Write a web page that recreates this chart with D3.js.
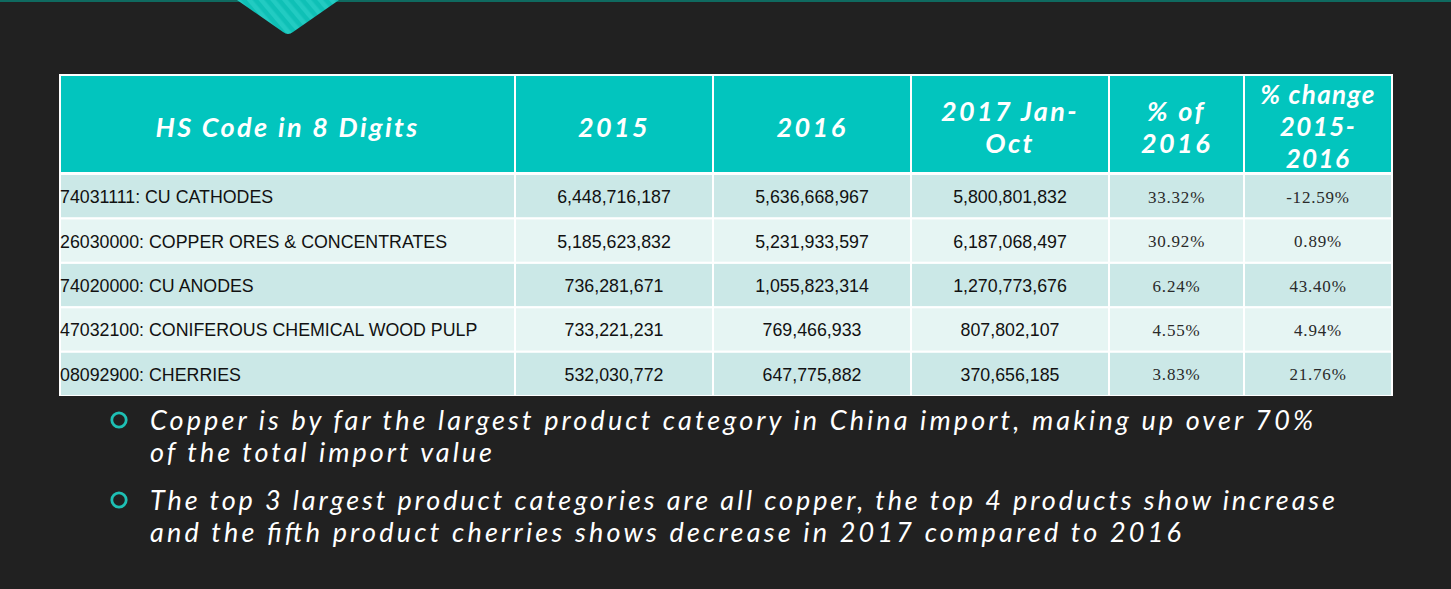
<!DOCTYPE html>
<html><head><meta charset="utf-8">
<script src="https://cdn.jsdelivr.net/npm/d3@7"></script>
<style>
html,body{margin:0;padding:0;background:#212121;}
svg{display:block;}
</style></head>
<body>
<svg id="c" width="1451" height="589"></svg>
<script>
// ---- data ----
const headers = [
  ["HS Code in 8 Digits"],
  ["2015"],
  ["2016"],
  ["2017 Jan-", "Oct"],
  ["% of", "2016"],
  ["% change", "2015-", "2016"]
];
const products = [
  "74031111: CU CATHODES",
  "26030000: COPPER ORES & CONCENTRATES",
  "74020000: CU ANODES",
  "47032100: CONIFEROUS CHEMICAL WOOD PULP",
  "08092900: CHERRIES"
];
const values2015 = [6448716187, 5185623832, 736281671, 733221231, 532030772];
const values2016 = [5636668967, 5231933597, 1055823314, 769466933, 647775882];
const values2017 = [5800801832, 6187068497, 1270773676, 807802107, 370656185];
const shareOf2016 = [33.32, 30.92, 6.24, 4.55, 3.83];
const change1516 = [-12.59, 0.89, 43.40, 4.94, 21.76];
const bullets = [
  ["Copper is by far the largest product category in China import, making up over 70%",
   "of the total import value"],
  ["The top 3 largest product categories are all copper, the top 4 products show increase",
   "and the fifth product cherries shows decrease in 2017 compared to 2016"]
];

// ---- layout ----
const svg = d3.select("#c");
const W = 1451, H = 589;
svg.append("rect").attr("width", W).attr("height", H).attr("fill", "#212121");

// top line
svg.append("rect").attr("x", 0).attr("y", 0).attr("width", W).attr("height", 2).attr("fill", "#0f6a60");

// striped chevron decoration
const defs = svg.append("defs");
const pat = defs.append("pattern").attr("id", "stripes").attr("patternUnits", "userSpaceOnUse")
  .attr("width", 9).attr("height", 9).attr("patternTransform", "rotate(-40)");
pat.append("rect").attr("width", 9).attr("height", 9).attr("fill", "#0fc0b6");
pat.append("rect").attr("width", 4.5).attr("height", 9).attr("fill", "#22cbc2");
svg.append("path")
  .attr("d", "M237,0 L339,0 L293,32 Q288,36 283,32 Z")
  .attr("fill", "url(#stripes)");

// table
const colEdges = [61, 515, 713, 911, 1109, 1244, 1392];
const tableTop = 74, tableBottom = 396, headTop = 76, headBottom = 172;
svg.append("rect").attr("x", 59).attr("y", tableTop).attr("width", 1393 - 59).attr("height", tableBottom - tableTop).attr("fill", "#ffffff");

const x = i => colEdges[i] + (i > 0 ? 1 : 0);
const cw = i => colEdges[i + 1] - 1 - x(i);

const y = d3.scaleBand().domain(d3.range(products.length)).range([175, 395]).paddingInner(0.05).paddingOuter(0);

const hdrFont = "'Lato', 'Open Sans', sans-serif";
// header cells
const hg = svg.append("g");
headers.forEach((lines, i) => {
  hg.append("rect").attr("x", x(i)).attr("y", headTop).attr("width", cw(i)).attr("height", headBottom - headTop).attr("fill", "#02c5be");
  const lh = 32;
  const cy = (headTop + headBottom) / 2 + 2;
  const t = hg.append("text").attr("x", x(i) + cw(i) / 2).attr("text-anchor", "middle")
    .attr("fill", "#fff").attr("font-family", hdrFont).attr("font-style", "italic").attr("font-weight", 700)
    .attr("font-size", i === 5 ? 26 : 27).attr("letter-spacing", i === 5 ? 1.4 : 2.4);
  lines.forEach((ln, k) => {
    t.append("tspan").attr("x", x(i) + cw(i) / 2)
      .attr("y", cy + (k - (lines.length - 1) / 2) * lh)
      .attr("dominant-baseline", "central").text(ln);
  });
});

// body
const fmt = d3.format(",");
const pct = v => v.toFixed(2) + "%";
const rows = products.map((p, r) => [p, fmt(values2015[r]), fmt(values2016[r]), fmt(values2017[r]), pct(shareOf2016[r]), pct(change1516[r])]);
const rowFill = ["#cbe8e7", "#e6f5f3"];

const rg = svg.append("g").selectAll("g").data(rows).join("g");
rg.each(function(row, r) {
  const g = d3.select(this);
  row.forEach((val, i) => {
    g.append("rect").attr("x", x(i)).attr("y", y(r)).attr("width", cw(i)).attr("height", y.bandwidth()).attr("fill", rowFill[r % 2]);
    const isPct = i >= 4;
    g.append("text")
      .attr("x", i === 0 ? x(i) - 1 : x(i) + cw(i) / 2)
      .attr("y", y(r) + y.bandwidth() / 2 + 1)
      .attr("text-anchor", i === 0 ? "start" : "middle")
      .attr("dominant-baseline", "central")
      .attr("fill", isPct ? "#2a2a2a" : "#111")
      .attr("font-family", isPct ? "'Liberation Serif', serif" : "'Liberation Sans', Arial, sans-serif")
      .attr("font-size", isPct ? 17 : 17.8)
      .attr("letter-spacing", isPct ? 0.8 : 0)
      .text(val);
  });
});

// bullets
const bulletTop = [430, 510];
const lineGap = 32;
const lineLens = [[1163, 342], [1185, 1031]];
const bg = svg.append("g");
bullets.forEach((lines, b) => {
  bg.append("circle").attr("cx", 119).attr("cy", bulletTop[b] - 10).attr("r", 7.2)
    .attr("fill", "none").attr("stroke", "#1ec0b4").attr("stroke-width", 2.8);
  lines.forEach((ln, k) => {
    bg.append("text").attr("x", 150).attr("y", bulletTop[b] + k * lineGap)
      .attr("fill", "#fff").attr("font-family", hdrFont).attr("font-style", "italic")
      .attr("font-size", 27)
      .attr("textLength", lineLens[b][k]).attr("lengthAdjust", "spacing")
      .text(ln);
  });
});
</script>
</body></html>
